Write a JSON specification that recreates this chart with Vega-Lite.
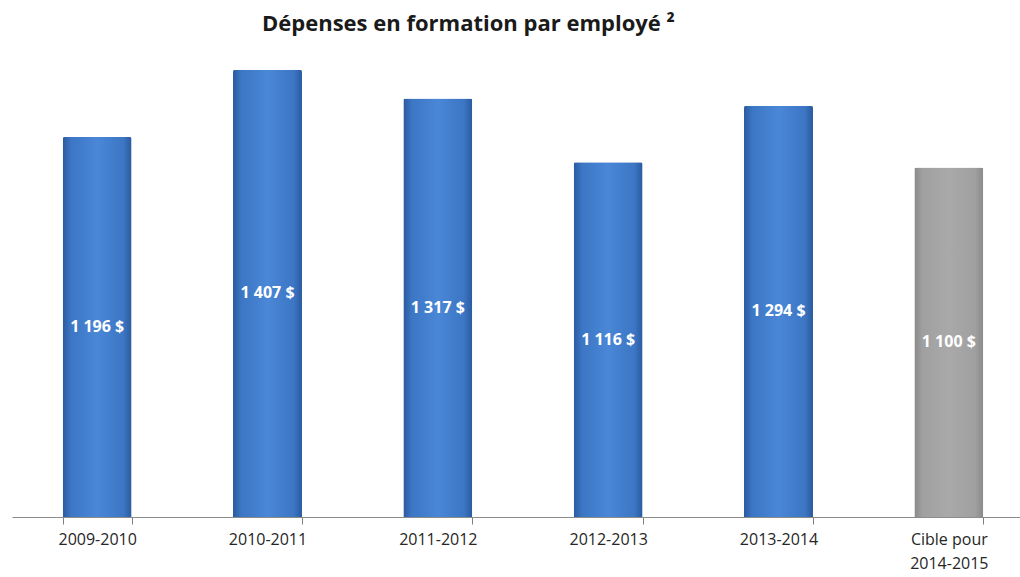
{
  "$schema": "https://vega.github.io/schema/vega-lite/v6.json",
  "autosize": {"type": "none"},
  "width": 1022,
  "height": 477,
  "padding": {"left": 12, "top": 40, "right": 0, "bottom": 60},
  "background": "white",
  "title": {
    "text": "Dépenses en formation par employé ²",
    "anchor": "start",
    "dx": 250,
    "offset": 4,
    "font": "Open Sans",
    "fontSize": 22,
    "fontWeight": "bold",
    "color": "#1a1a1a"
  },
  "data": {
    "values": [
      {"period": "2009-2010", "value": 1196, "label": "1 196 $", "kind": "actual"},
      {"period": "2010-2011", "value": 1407, "label": "1 407 $", "kind": "actual"},
      {"period": "2011-2012", "value": 1317, "label": "1 317 $", "kind": "actual"},
      {"period": "2012-2013", "value": 1116, "label": "1 116 $", "kind": "actual"},
      {"period": "2013-2014", "value": 1294, "label": "1 294 $", "kind": "actual"},
      {"period": "Cible pour|2014-2015", "value": 1100, "label": "1 100 $", "kind": "target"}
    ]
  },
  "transform": [{"calculate": "datum.value / 2", "as": "mid"}],
  "encoding": {
    "x": {
      "field": "period",
      "type": "nominal",
      "sort": null,
      "scale": {"paddingInner": 0.595, "paddingOuter": 0.2975},
      "axis": {
        "title": null,
        "labelAngle": 0,
        "labelExpr": "split(datum.label, '|')",
        "labelFont": "Open Sans",
        "labelFontSize": 16,
        "labelColor": "#262626",
        "labelLineHeight": 24,
        "labelPadding": 7,
        "ticks": true,
        "tickBand": "extent",
        "tickSize": 7,
        "tickWidth": 1,
        "tickColor": "#7f7f7f",
        "domainColor": "#8c8c8c",
        "domainWidth": 1
      }
    }
  },
  "layer": [
    {
      "transform": [{"filter": "datum.kind == 'actual'"}],
      "mark": {
        "type": "bar",
        "cornerRadiusTopLeft": 2,
        "cornerRadiusTopRight": 2,
        "color": {
          "gradient": "linear",
          "x1": 0, "y1": 0, "x2": 1, "y2": 0,
          "stops": [
            {"offset": 0, "color": "#2a5a9e"},
            {"offset": 0.12, "color": "#3c76c4"},
            {"offset": 0.5, "color": "#4a87d7"},
            {"offset": 0.88, "color": "#3c76c4"},
            {"offset": 1, "color": "#2a5a9e"}
          ]
        }
      },
      "encoding": {
        "y": {"field": "value", "type": "quantitative", "scale": {"domain": [0, 1501]}, "axis": null}
      }
    },
    {
      "transform": [{"filter": "datum.kind == 'target'"}],
      "mark": {
        "type": "bar",
        "cornerRadiusTopLeft": 2,
        "cornerRadiusTopRight": 2,
        "color": {
          "gradient": "linear",
          "x1": 0, "y1": 0, "x2": 1, "y2": 0,
          "stops": [
            {"offset": 0, "color": "#8a8a8a"},
            {"offset": 0.12, "color": "#a0a0a0"},
            {"offset": 0.5, "color": "#a9a9a9"},
            {"offset": 0.88, "color": "#a0a0a0"},
            {"offset": 1, "color": "#8a8a8a"}
          ]
        }
      },
      "encoding": {
        "y": {"field": "value", "type": "quantitative", "scale": {"domain": [0, 1501]}, "axis": null}
      }
    },
    {
      "mark": {
        "type": "text",
        "color": "white",
        "font": "Open Sans",
        "fontSize": 16,
        "fontWeight": "bold",
        "baseline": "middle",
        "align": "center"
      },
      "encoding": {
        "y": {"field": "mid", "type": "quantitative", "scale": {"domain": [0, 1501]}, "axis": null},
        "text": {"field": "label", "type": "nominal"}
      }
    }
  ],
  "config": {"view": {"stroke": null}}
}
